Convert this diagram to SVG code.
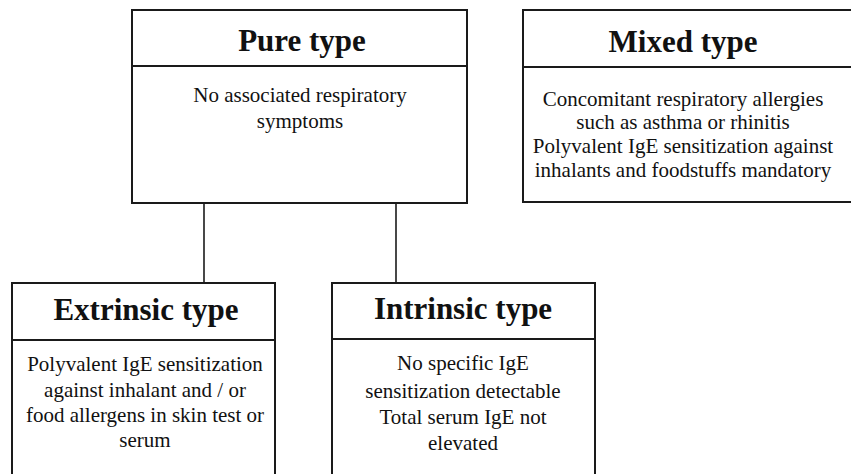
<svg xmlns="http://www.w3.org/2000/svg" width="851" height="474" viewBox="0 0 851 474">
<style>
.box{fill:none;stroke:#1a1a1a;stroke-width:2}
.div{stroke:#1a1a1a;stroke-width:2}
.con{stroke:#1a1a1a;stroke-width:1.6;fill:none}
.title{font-family:"Liberation Serif","Times New Roman",serif;font-weight:bold;font-size:31px;fill:#111;text-anchor:middle}
.body{font-family:"Liberation Serif","Times New Roman",serif;font-size:21px;fill:#111;text-anchor:middle}
</style>
<rect width="851" height="474" fill="#fff"/>
<g id="connectors">
<line class="con" x1="204" y1="203" x2="204" y2="283"/>
<line class="con" x1="396" y1="203" x2="396" y2="283"/>
</g>
<g id="pure">
<rect class="box" x="132" y="10" width="335" height="193"/>
<line class="div" x1="132" y1="66" x2="467" y2="66"/>
<text class="title" x="302" y="51">Pure type</text>
<text class="body" x="300" y="102">No associated respiratory</text>
<text class="body" x="300" y="128">symptoms</text>
</g>
<g id="mixed">
<rect class="box" x="523" y="10" width="340" height="192"/>
<line class="div" x1="523" y1="67" x2="863" y2="67"/>
<text class="title" x="683" y="52">Mixed type</text>
<text class="body" x="683" y="106">Concomitant respiratory allergies</text>
<text class="body" x="683" y="129">such as asthma or rhinitis</text>
<text class="body" x="683" y="153">Polyvalent IgE sensitization against</text>
<text class="body" x="683" y="177">inhalants and foodstuffs mandatory</text>
</g>
<g id="extrinsic">
<path class="box" d="M12,480 V283 H275 V480"/>
<line class="div" x1="12" y1="340" x2="275" y2="340"/>
<text class="title" x="146" y="320">Extrinsic type</text>
<text class="body" x="145" y="371">Polyvalent IgE sensitization</text>
<text class="body" x="145" y="397">against inhalant and / or</text>
<text class="body" x="145" y="422">food allergens in skin test or</text>
<text class="body" x="145" y="447">serum</text>
</g>
<g id="intrinsic">
<path class="box" d="M332,480 V283 H595 V480"/>
<line class="div" x1="332" y1="339" x2="595" y2="339"/>
<text class="title" x="463" y="319">Intrinsic type</text>
<text class="body" x="463" y="370">No specific IgE</text>
<text class="body" x="463" y="398">sensitization detectable</text>
<text class="body" x="463" y="424">Total serum IgE not</text>
<text class="body" x="463" y="450">elevated</text>
</g>
</svg>
